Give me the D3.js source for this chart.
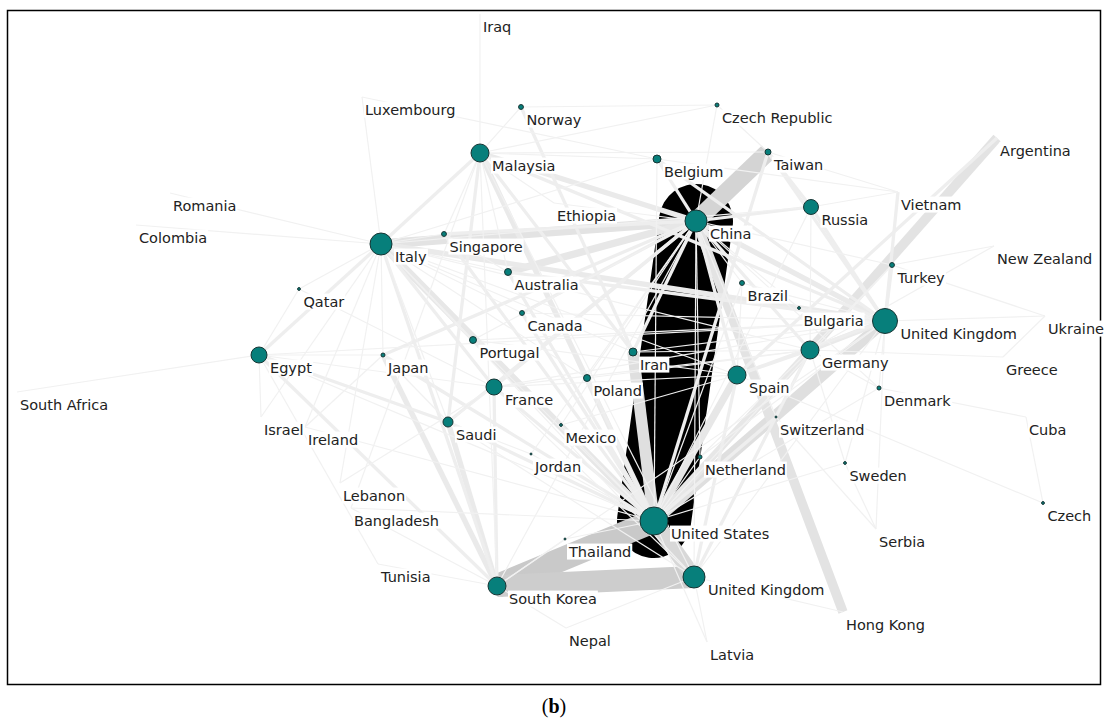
<!DOCTYPE html>
<html lang="en">
<head>
    <meta charset="UTF-8">
    <title>Co-authorship network (b)</title>
    <script src="https://d3js.org/d3.v7.min.js"></script>
    <style>
        body { margin: 0; background: #fff; }
        .label { font-family: "DejaVu Sans", Verdana, sans-serif; font-size: 14.5px; fill: #222; }
        .caption { font-family: "Liberation Serif", "Times New Roman", serif; font-size: 20px; fill: #000; }
    </style>
</head>
<body>
    <div id="chart"></div>

    <script>
        // Nodes: id, label, layout position (x right, y up) and size (drives dot area)
        const nodeIds = ["IRQ","LUX","NOR","CZR","MYS","BEL","TWN","ARG","ROU","COL","ETH","CHN","RUS","VNM","ITA","SGP","AUS","BRA","TUR","NZL","QAT","CAN","BGR","GBR1","UKR","EGY","JPN","PRT","IRN","DEU","GRC","ESP","POL","FRA","DNK","ZAF","SAU","ISR","IRL","MEX","CHE","CUB","JOR","NLD","SWE","LBN","CZE","BGD","USA","THA","SRB","TUN","KOR","GBR2","HKG","NPL","LVA"];
        const nodeLabels = ["Iraq","Luxembourg","Norway","Czech Republic","Malaysia","Belgium","Taiwan","Argentina","Romania","Colombia","Ethiopia","China","Russia","Vietnam","Italy","Singapore","Australia","Brazil","Turkey","New Zealand","Qatar","Canada","Bulgaria","United Kingdom","Ukraine","Egypt","Japan","Portugal","Iran","Germany","Greece","Spain","Poland","France","Denmark","South Africa","Saudi","Israel","Ireland","Mexico","Switzerland","Cuba","Jordan","Netherland","Sweden","Lebanon","Czech","Bangladesh","United States","Thailand","Serbia","Tunisia","South Korea","United Kingdom","Hong Kong","Nepal","Latvia"];
        const nodeX = [-74,-192,-33,163,-74,103,214,443,-384,-418,0,142,257,344,-173,-110,-46,188,338,440,-255,-32,245,331,491,-295,-171,-81,79,256,449,183,33,-60,325,-537,-106,-293,-249,7,222,472,-23,146,291,-214,489,-203,100,11,322,-176,-57,140,289,12,153];
        const nodeY = [334,251,241,243,195,189,196,210,155,123,145,127,141,156,104,114,76,65,83,102,59,35,40,27,32,-7,-7,8,-4,-2,-9,-27,-30,-39,-40,-44,-74,-69,-79,-77,-69,-69,-106,-109,-115,-135,-155,-160,-173,-191,-181,-216,-238,-229,-264,-280,-294];
        const nodeSize = [0,0,6,4,81,16,9,0,0,0,0,121,56,0,121,6,12,6,6,0,2,6,2,156,0,64,4,12,16,81,0,81,12,64,4,0,25,0,0,2,1,0,1,4,2,0,2,0,196,1,0,0,81,121,0,0,0];

        // Links: [source, target, weight]
        const links = [
            ["CHN","USA",36],
            ["KOR","USA",12],["KOR","GBR2",11],["TWN","CHN",9],["USA","GBR2",8],
            ["GBR1","USA",6],["IRN","USA",6],["ITA","CHN",5],
            ["DEU","USA",4],["ESP","USA",4],["ARG","DEU",5],["CHN","HKG",5],["ITA","USA",4],["AUS","CHN",4],
            ["MYS","USA",3],["JPN","KOR",3],["MYS","CHN",3],["GBR1","CHN",3],["DEU","CHN",2],["TWN","USA",2],
            ["AUS","USA",2],["FRA","USA",2],["CHN","GBR2",1],["CHN","KOR",1],
            ["SAU","USA",2],["SAU","KOR",3],["ITA","GBR1",3],["CAN","CHN",2],["FRA","CHN",2],["BEL","CHN",2],
            ["IRN","CHN",2],["SAU","CHN",2],["JPN","CHN",2],["RUS","CHN",2],["RUS","USA",1],["SGP","USA",2],
            ["POL","USA",2],["BEL","USA",1],["BRA","USA",1],["CAN","USA",2],["JPN","USA",2],["GBR1","DEU",3],
            ["DEU","ESP",2],["ESP","CHN",2],["EGY","SAU",2],
            ["NOR","IRN",2],["ITA","FRA",2],["ITA","MYS",2],["ITA","EGY",2],["ITA","ESP",1],["ITA","DEU",1],
            ["ITA","KOR",2],["MYS","SAU",2],["MYS","IRN",2],["MYS","AUS",1],["MYS","GBR1",2],["FRA","DEU",1],
            ["FRA","GBR1",1],["FRA","KOR",2],["ESP","GBR1",2],["RUS","DEU",1],["RUS","GBR1",2],["PRT","ESP",1],
            ["PRT","GBR1",1],["CAN","GBR1",1],["AUS","GBR1",2],["SGP","AUS",1],["POL","CHN",1],["BRA","CHN",1],
            ["TUR","DEU",1],["NLD","CHN",1],["NLD","GBR1",1],["BEL","GBR1",2],["TWN","GBR1",2],["TWN","RUS",2],
            ["IRN","GBR1",1],["EGY","KOR",2],["GBR1","GBR2",1],["DEU","GBR2",2],["ESP","GBR2",2],["CHE","USA",2],
            ["ARG","ESP",2],["NLD","USA",1],["SGP","CHN",2],["TUR","GBR1",2],["VNM","GBR1",2],
            ["IRQ","MYS",1],["LUX","ITA",1],["LUX","BEL",1],["NOR","CZR",1],["NOR","MYS",1],["CZR","CHN",1],
            ["CZR","TWN",1],["CZR","MYS",1],["ROU","ITA",1],["COL","ITA",1],["QAT","ITA",1],["QAT","EGY",1],
            ["QAT","FRA",1],["ZAF","EGY",1],["EGY","JPN",1],["EGY","ISR",1],["EGY","FRA",1],["EGY","USA",1],
            ["ISR","ITA",1],["IRL","JPN",1],["IRL","ITA",1],["IRL","USA",1],["LBN","ITA",1],["LBN","FRA",1],
            ["BGD","MYS",1],["BGD","USA",1],["BGD","KOR",1],["TUN","KOR",1],["TUN","EGY",1],["NPL","KOR",1],
            ["NPL","GBR2",1],["LVA","GBR2",1],["LVA","USA",1],["HKG","GBR2",1],["SRB","SWE",1],["SRB","CHE",1],
            ["SRB","GBR1",1],["CZE","CUB",1],["CZE","ESP",1],["CUB","DNK",1],["GRC","DEU",1],["GRC","UKR",1],
            ["UKR","TUR",1],["UKR","GBR1",1],["NZL","DEU",1],["NZL","TUR",1],["VNM","RUS",1],["VNM","TWN",1],
            ["VNM","BEL",1],["DNK","GBR1",1],["DNK","DEU",1],["SWE","DEU",1],["SWE","USA",1],["SWE","GBR1",1],
            ["CHE","DEU",1],["ETH","CHN",1],["ETH","MYS",1],["THA","USA",1],["THA","KOR",1],["JOR","USA",1],
            ["JOR","SAU",1],["MEX","USA",1],["MEX","ESP",1],["BGR","GBR1",1],["BGR","CHN",1],["JPN","ITA",1],
            ["JPN","SAU",1],["PRT","ITA",1],["PRT","CHN",1],["PRT","USA",1],["SAU","ITA",1],["SAU","FRA",1],
            ["SAU","GBR2",1],["CAN","ITA",1],["AUS","ITA",1],["SGP","ITA",1],["SGP","MYS",1],["IRN","ITA",1],
            ["IRN","DEU",1],["POL","ITA",1],["POL","DEU",1],["BRA","ESP",1],["BRA","GBR1",1],["TUR","CHN",1],
            ["TUR","USA",1],["RUS","ITA",1],["BEL","ITA",1],["BEL","MYS",1],["TWN","MYS",1],["FRA","ESP",1],
            ["FRA","GBR2",1],["MYS","KOR",1],["MYS","GBR2",1],["EGY","GBR1",1],["ITA","GBR2",1],["KOR","GBR1",1],
            ["NLD","DEU",1],["CHE","CHN",1],["MEX","CHN",1],["JOR","CHN",1],["DNK","CHN",1],["DNK","USA",1]
        ];

        const caption = ["(", "b", ")"];

        const W = 1108, H = 722;

        const svg = d3.select("#chart")
            .append("svg")
            .attr("width", W)
            .attr("height", H);

        // layout space -> screen
        const x = d3.scaleLinear().domain([-554, 554]).range([0, W]);
        const y = d3.scaleLinear().domain([348, -374]).range([0, H]);
        const r = d3.scaleSqrt().domain([0, 196]).range([0, 14]);
        const linkWidth = d3.scaleLinear().domain([1, 12, 36]).range([1.2, 24, 74]);
        const linkColor = d3.scaleLinear().domain([1, 5, 12, 12.01, 36])
            .range(["#f1f1f1", "#e3e3e3", "#c9c9c9", "#000", "#000"]).clamp(true);

        const nodes = nodeIds.map((id, i) => ({
            id, label: nodeLabels[i], x: x(nodeX[i]), y: y(nodeY[i]), r: r(nodeSize[i])
        }));
        const byId = new Map(nodes.map(d => [d.id, d]));

        // frame
        svg.append("rect")
            .attr("x", 7.5).attr("y", 10.5)
            .attr("width", 1093).attr("height", 674)
            .attr("fill", "#fff")
            .attr("stroke", "#000")
            .attr("stroke-width", 1.5);

        const g = svg.append("g");

        // heavy links first, thin ones painted on top
        const sorted = links.slice().sort((a, b) => b[2] - a[2]);
        g.append("g").selectAll("line")
            .data(sorted)
            .join("line")
            .attr("x1", d => byId.get(d[0]).x)
            .attr("y1", d => byId.get(d[0]).y)
            .attr("x2", d => byId.get(d[1]).x)
            .attr("y2", d => byId.get(d[1]).y)
            .attr("stroke", d => linkColor(d[2]))
            .attr("stroke-width", d => linkWidth(d[2]))
            .attr("stroke-linecap", d => d[2] > 12 ? "round" : "butt");

        // labels with white boxes
        const lab = g.append("g").selectAll("g")
            .data(nodes)
            .join("g")
            .attr("transform", d => `translate(${d.x + d.r + 3},${d.y + 12.5})`);

        lab.append("text")
            .attr("class", "label")
            .attr("dy", "0.35em")
            .text(d => d.label);

        lab.insert("rect", "text")
            .each(function () {
                const b = this.parentNode.querySelector("text").getBBox();
                d3.select(this)
                    .attr("x", b.x - 1).attr("y", b.y)
                    .attr("width", b.width + 2).attr("height", b.height)
                    .attr("fill", "#fff");
            });

        // dots
        g.append("g").selectAll("circle")
            .data(nodes.filter(d => d.r > 0))
            .join("circle")
            .attr("cx", d => d.x)
            .attr("cy", d => d.y)
            .attr("r", d => d.r)
            .attr("fill", "#077f7b")
            .attr("stroke", "#173534")
            .attr("stroke-width", 1);

        // caption
        const cap = svg.append("text")
            .attr("class", "caption")
            .attr("x", W / 2)
            .attr("y", 713)
            .attr("text-anchor", "middle");
        cap.selectAll("tspan")
            .data(caption)
            .join("tspan")
            .attr("font-weight", d => d === "b" ? "bold" : "normal")
            .text(d => d);
    </script>
</body>
</html>
